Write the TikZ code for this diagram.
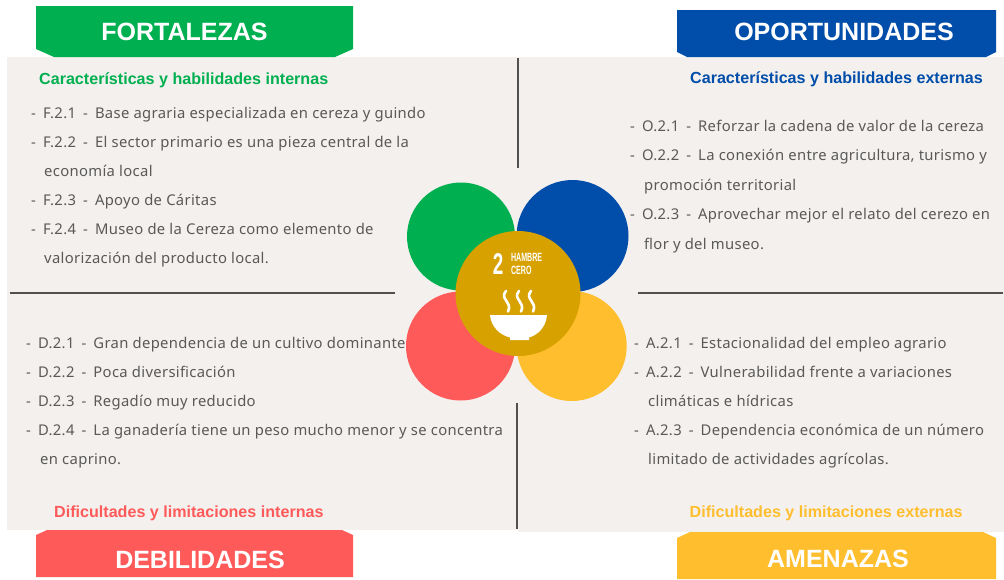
\documentclass[tikz,border=0pt]{standalone}
\usepackage{fontspec}
\setmainfont{Noto Sans}
\newfontfamily\hfont{Liberation Sans}
\newfontfamily\bodyfont[LetterSpace=2.3,WordSpace=1.0]{Noto Sans}
\newcommand\wsp{\hspace{2.9pt}}
\definecolor{cgreen}{HTML}{00B050}
\definecolor{cblue}{HTML}{004DAA}
\definecolor{cred}{HTML}{FF5A5A}
\definecolor{cyellow}{HTML}{FFBE2E}
\definecolor{cgold}{HTML}{D7A100}
\definecolor{cpanel}{HTML}{F4F0ED}
\definecolor{ctext}{HTML}{595959}
\definecolor{cline}{HTML}{505050}
\tikzset{
 x=1pt,y=-1pt,
 banner/.style={text=white,font=\hfont\bfseries\fontsize{25}{25}\selectfont,inner sep=0pt},
 sub/.style={font=\hfont\bfseries\fontsize{16.1}{16.1}\selectfont,inner sep=0pt,anchor=base west},
 body/.style={text=ctext,font=\bodyfont\fontsize{14.8}{14.8}\selectfont,inner sep=0pt,anchor=base west},
 sep/.style={cline,line width=2pt},
 petal/.style={circle,inner sep=0pt},
}
\begin{document}
\begin{tikzpicture}
\useasboundingbox (0,0) rectangle (1004,579);
\fill[cpanel] (7,57) rectangle (1004,530);
\fill[cpanel] (518,530) rectangle (1004,532);
% banners
\fill[cgreen] (36,6) -- (353,6) -- (353,49) -- (335,57) -- (54,57) -- (36,49) -- cycle;
\fill[cblue] (677,10) -- (996,10) -- (996,52) -- (986,57) -- (687,57) -- (677,52) -- cycle;
\fill[cred] (36,577) -- (353,577) -- (353,535) -- (342,530) -- (47,530) -- (36,535) -- cycle;
\fill[cyellow] (677,579) -- (996,579) -- (996,538) -- (983,532) -- (690,532) -- (677,538) -- cycle;
\node[banner] (fort) at (184.5,32) {FORTALEZAS};
\node[banner] (opor) at (844,32) {OPORTUNIDADES};
\node[banner] (debi) at (200,559.5) {DEBILIDADES};
\node[banner] (amen) at (838,558.5) {AMENAZAS};
% separators
\coordinate (v1a) at (518,58); \coordinate (v1b) at (518,168);
\coordinate (v2a) at (517,403); \coordinate (v2b) at (517,529);
\coordinate (h1a) at (10,292.5); \coordinate (h1b) at (395,292.5);
\coordinate (h2a) at (638,293); \coordinate (h2b) at (1003,293);
\draw[sep] (v1a) -- (v1b);
\draw[sep] (v2a) -- (v2b);
\draw[sep] (h1a) -- (h1b);
\draw[sep] (h2a) -- (h2b);
% circles
\node[petal,fill=cgreen,minimum size=108pt] (cg) at (461,236.5) {};
\node[petal,fill=cblue,minimum size=112pt] (cb) at (572.5,236) {};
\node[petal,fill=cred,minimum size=109pt] (cr) at (460.5,346) {};
\node[petal,fill=cyellow,minimum size=110pt] (cy) at (571.7,346) {};
\node[petal,fill=cgold,minimum size=125pt] (cc) at (518,293.5) {};
\node[text=white,font=\hfont\bfseries\fontsize{30}{30}\selectfont,inner sep=0pt,xscale=.63] (n2) at (498,264) {2};
\node[text=white,font=\hfont\bfseries\fontsize{12}{12.8}\selectfont,inner sep=0pt,align=left,anchor=west,xscale=.59] (hc) at (511,263.8) {HAMBRE\\CERO};
% bowl
\fill[white] (490,315) -- (547,315) .. controls (546,327) and (538,335) .. (529,337.5) -- (529,340) -- (510,340) -- (510,337.5) .. controls (500,335) and (491,327) .. (490,315) -- cycle;
\foreach \sx in {506,519,531}{
 \draw[white,line width=2.6pt,line cap=round] (\sx,291) .. controls (\sx-7,299) and (\sx+7,302) .. (\sx+2,311.5);
}
% text
\node[sub,text=cgreen] (st1) at (39,84) {Características y habilidades internas};
\node[sub,text=cblue] (st2) at (690,83) {Características y habilidades externas};
\node[sub,text=cred] (st3) at (54,517) {Dificultades y limitaciones internas};
\node[sub,text=cyellow] (st4) at (689.5,517) {Dificultades y limitaciones externas};
\node[body] (f0) at (31,118) {-\wsp{} F.2.1\wsp{} -\wsp{} Base agraria especializada en cereza y guindo};
\node[body] (f1) at (31,147) {-\wsp{} F.2.2\wsp{} -\wsp{} El sector primario es una pieza central de la};
\node[body] (f2) at (44,176) {economía local};
\node[body] (f3) at (31,205) {-\wsp{} F.2.3\wsp{} -\wsp{} Apoyo de Cáritas};
\node[body] (f4) at (31,234) {-\wsp{} F.2.4\wsp{} -\wsp{} Museo de la Cereza como elemento de};
\node[body] (f5) at (44,263) {valorización del producto local.};
\node[body] (o0) at (630,131) {-\wsp{} O.2.1\wsp{} -\wsp{} Reforzar la cadena de valor de la cereza};
\node[body] (o1) at (630,160) {-\wsp{} O.2.2\wsp{} -\wsp{} La conexión entre agricultura, turismo y};
\node[body] (o2) at (644,190) {promoción territorial};
\node[body] (o3) at (630,219) {-\wsp{} O.2.3\wsp{} -\wsp{} Aprovechar mejor el relato del cerezo en};
\node[body] (o4) at (644,249) {flor y del museo.};
\node[body] (d0) at (26,348) {-\wsp{} D.2.1\wsp{} -\wsp{} Gran dependencia de un cultivo dominante};
\node[body] (d1) at (26,377) {-\wsp{} D.2.2\wsp{} -\wsp{} Poca diversificación};
\node[body] (d2) at (26,406) {-\wsp{} D.2.3\wsp{} -\wsp{} Regadío muy reducido};
\node[body] (d3) at (26,435) {-\wsp{} D.2.4\wsp{} -\wsp{} La ganadería tiene un peso mucho menor y se concentra};
\node[body] (d4) at (40,464) {en caprino.};
\node[body] (a0) at (634,348) {-\wsp{} A.2.1\wsp{} -\wsp{} Estacionalidad del empleo agrario};
\node[body] (a1) at (634,377) {-\wsp{} A.2.2\wsp{} -\wsp{} Vulnerabilidad frente a variaciones};
\node[body] (a2) at (648,406) {climáticas e hídricas};
\node[body] (a3) at (634,435) {-\wsp{} A.2.3\wsp{} -\wsp{} Dependencia económica de un número};
\node[body] (a4) at (648,464) {limitado de actividades agrícolas.};
\end{tikzpicture}
\end{document}
